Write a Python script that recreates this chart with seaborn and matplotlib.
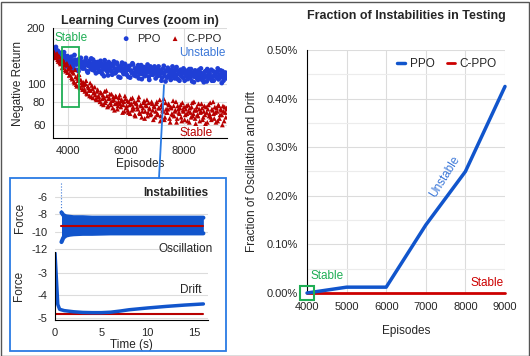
import numpy as np
import pandas as pd
import seaborn as sns
import matplotlib.pyplot as plt
from matplotlib.patches import Rectangle
from matplotlib.lines import Line2D
from matplotlib.ticker import FixedLocator, NullLocator, FuncFormatter, MultipleLocator, ScalarFormatter

# learning curves (zoom in), two runs of samples, 40 episodes apart each
episodes_a = list(range(3520, 9500, 40))
episodes_b = list(range(3540, 9520, 40))
ppo_return_a = [152, 146, 158, 141, 149, 137, 144, 131, 139, 148, 127, 135, 141,
                129, 138, 122, 133, 126, 143, 131, 119, 128, 136, 124, 132, 121,
                130, 126, 138, 117, 125, 133, 120, 128, 135, 118, 127, 123,
                131, 116, 124, 129, 113, 122, 134, 119, 126, 111, 121, 128, 117, 125, 132, 114, 120, 127, 109, 123, 118, 130, 115, 121, 126,
                112, 119, 124, 108, 117, 129, 114, 121, 110, 118, 126, 113, 120, 106, 116, 123, 111, 119, 127, 109, 115, 122, 112, 118, 124,
                107, 116, 121, 111, 118, 104, 114, 125, 110, 117, 108, 120, 113, 105, 119, 112, 116, 109, 123, 106, 115, 118, 110, 114, 121,
                104, 113, 117, 109, 120, 107, 115, 111, 102, 118, 112, 106, 116, 110, 121, 105, 113, 108, 117, 103, 111, 115, 107, 119, 109,
                104, 114, 110, 116, 106, 112, 118, 101, 113, 108, 115, 110]
ppo_return_b = [148, 155, 139, 151, 143, 133, 147, 138, 129, 142, 136, 124, 138,
                133, 125, 140, 128, 120, 135, 127, 131, 117, 129, 138, 122, 127,
                121, 134, 128, 115, 130, 124, 137, 119, 123, 131, 114, 129,
                120, 127, 133, 118, 125, 110, 129, 122, 116, 131, 119, 124, 112, 127, 121, 115, 130, 118, 123, 108, 125, 119, 113, 128, 117,
                122, 109, 125, 118, 114, 127, 111, 120, 116, 124, 107, 119, 126, 113, 118, 110, 122, 115, 120, 105, 124, 117, 112, 121, 114,
                119, 110, 124, 113, 117, 108, 121, 115, 103, 118, 122, 111, 116, 109, 124, 114, 107, 120, 112, 117, 104, 119, 113, 108, 116,
                118, 110, 106, 115, 112, 120, 103, 114, 109, 117, 111, 105, 119, 108, 114, 112, 102, 116, 110, 120, 107, 113, 109, 104, 117,
                111, 115, 108, 121, 106, 112, 109, 117, 104, 114, 111, 107]
cppo_return_a = [150, 143, 138, 146, 132, 140, 128, 135, 124, 131, 119, 127, 115,
                 122, 112, 118, 106, 114, 101, 109, 97, 104, 112, 95, 101, 93,
                 99, 91, 104, 88, 95, 86, 92, 98, 84, 90, 87, 82,
                 93, 85, 80, 89, 83, 77, 91, 81, 86, 76, 84, 79, 88, 74, 82, 78, 85, 73, 80, 87, 75, 81, 77, 71, 83,
                 76, 72, 80, 69, 78, 84, 73, 68, 79, 75, 82, 70, 77, 66, 74, 81, 71, 76, 67, 79, 73, 69, 78, 64, 75,
                 71, 80, 68, 74, 63, 77, 72, 83, 66, 73, 70, 78, 65, 75, 69, 81, 67, 72, 62, 76, 70, 74, 66, 79, 71,
                 64, 73, 69, 77, 62, 70, 75, 67, 80, 65, 72, 68, 78, 63, 71, 74, 66, 76, 61, 70, 73, 67, 79, 64, 72,
                 69, 75, 62, 71, 77, 65, 73, 68, 76, 63, 70, 74]
cppo_return_b = [147, 139, 144, 135, 141, 130, 137, 122, 133, 126, 117, 129, 120,
                 111, 124, 108, 116, 103, 119, 99, 107, 113, 96, 105, 98, 102,
                 94, 100, 89, 97, 92, 101, 85, 94, 89, 96, 83, 91,
                 86, 82, 90, 78, 87, 84, 79, 92, 75, 83, 88, 77, 81, 85, 72, 86, 79, 76, 84, 78, 82, 70, 80, 86, 74,
                 81, 70, 77, 83, 72, 75, 80, 67, 78, 73, 85, 69, 76, 71, 79, 65, 77, 82, 70, 74, 68, 80, 72, 76, 66,
                 78, 69, 74, 82, 67, 75, 71, 64, 79, 70, 73, 77, 62, 74, 68, 76, 71, 80, 65, 73, 69, 77, 63, 72, 75,
                 68, 76, 63, 71, 74, 66, 79, 69, 72, 61, 75, 67, 73, 70, 78, 64, 71, 68, 75, 62, 77, 69, 66, 73, 80,
                 65, 70, 74, 63, 76, 68, 72, 60, 71, 75, 66, 73]

# inset: oscillation (envelope) and drift
osc_time = [0.7, 0.9, 1.2, 1.6, 2.0, 3.0, 4.0, 6.0, 8.0, 10.0, 12.0, 14.0, 16.0]
osc_upper = [-7.8, -8.1, -8.25, -8.3, -8.35, -8.35, -8.4, -8.4, -8.4, -8.4, -8.4, -8.4, -8.4]
osc_lower = [-11.2, -10.7, -10.45, -10.35, -10.3, -10.25, -10.25, -10.2, -10.2, -10.2, -10.2, -10.2, -10.2]
osc_ref_time = [0.7, 16.0]
osc_ref = [-9.3, -9.3]
drift_time = [0.0, 0.3, 0.5, 1.0, 2.0, 3.0, 4.0, 5.0, 6.0, 7.0, 8.0, 10.0, 12.0, 14.0, 16.0]
drift_force = [-2.1, -4.4, -4.62, -4.68, -4.73, -4.76, -4.77, -4.77, -4.75, -4.7, -4.64, -4.56, -4.49, -4.43, -4.38]
drift_ref_time = [0.0, 16.0]
drift_ref = [-4.85, -4.85]

# fraction of instabilities in testing (percent)
test_episodes = [4000, 5000, 6000, 7000, 8000, 9000]
ppo_frac = [0.0, 0.012, 0.012, 0.14, 0.25, 0.425]
cppo_frac = [0.0, 0.0, 0.0, 0.0, 0.0, 0.0]

BLUE = '#1f3fd6'
LBLUE = '#1155cc'
TBLUE = '#3c78d8'
RED = '#b80000'
GREEN = '#1fae55'
GRID = '#dcdcdc'

sns.set_style('whitegrid', {'grid.color': GRID})
plt.rcParams['font.family'] = ['Liberation Sans', 'DejaVu Sans']
plt.rcParams['font.size'] = 8
plt.rcParams['axes.unicode_minus'] = False

W, H = 530, 356
fig = plt.figure(figsize=(W / 100, H / 100), dpi=100)

def box(x0, y0, x1, y1):
    return [x0 / W, 1 - y1 / H, (x1 - x0) / W, (y1 - y0) / H]

# ---------- learning curves ----------
ax1 = fig.add_axes(box(53, 28, 227, 138))
sns.scatterplot(x=episodes_a + episodes_b, y=ppo_return_a + ppo_return_b, ax=ax1, marker='o',
                s=12, color=BLUE, edgecolor='none', label='PPO')
sns.scatterplot(x=episodes_a + episodes_b, y=cppo_return_a + cppo_return_b, ax=ax1, marker='^',
                s=12, color=RED, edgecolor='none', label='C-PPO')
ax1.set_yscale('log')
ax1.set_ylim(51, 200)
ax1.set_xlim(3500, 9500)
ax1.yaxis.set_major_locator(FixedLocator([60, 80, 100, 200]))
ax1.yaxis.set_major_formatter(ScalarFormatter())
ax1.yaxis.set_minor_locator(NullLocator())
ax1.set_xticks([4000, 6000, 8000])
ax1.tick_params(labelsize=8, pad=2)
ax1.set_xlabel('Episodes', fontsize=8.5, labelpad=2)
ax1.set_ylabel('Negative Return', fontsize=8.5, labelpad=2)
ax1.set_title('Learning Curves (zoom in)', fontsize=9, fontweight='bold', pad=3)
for s in ['top', 'right']:
    ax1.spines[s].set_visible(False)
for s in ['left', 'bottom']:
    ax1.spines[s].set_color('black')
ax1.legend(loc='upper right', ncol=2, frameon=False, fontsize=8, handletextpad=0.0,
           columnspacing=0.3, borderaxespad=0.1, markerscale=1.0)
ax1.add_patch(Rectangle((3800, 75), 600, 83, fill=False, edgecolor=GREEN, lw=1.3, zorder=5))
ax1.text(3560, 176, 'Stable', color=GREEN, fontsize=8.5, va='center')
ax1.text(9450, 147, 'Unstable', color=TBLUE, fontsize=8.5, ha='right', va='center')
ax1.text(9000, 54.5, 'Stable', color=RED, fontsize=8.5, ha='right', va='center')

# ---------- inset: instabilities ----------
axt = fig.add_axes(box(55, 183, 208, 252))
axt.fill_between(osc_time, osc_lower, osc_upper, color=LBLUE, lw=0)
sns.lineplot(x=osc_time, y=osc_upper, ax=axt, color=LBLUE, lw=3, solid_capstyle='round')
sns.lineplot(x=osc_time, y=osc_lower, ax=axt, color=LBLUE, lw=3, solid_capstyle='round')
sns.lineplot(x=osc_ref_time, y=osc_ref, ax=axt, color=RED, lw=1.5)
axt.plot([0.7, 0.7], [-4.4, -7.8], ls=':', lw=0.8, color=TBLUE)
axt.set_xlim(0, 16.5)
axt.set_ylim(-12.35, -4.4)
axt.set_yticks([-6, -8, -10, -12])
axt.set_xticks([])
axt.tick_params(labelsize=8, pad=2)
axt.set_ylabel('Force', fontsize=8.5, labelpad=4)
for s in axt.spines.values():
    s.set_visible(False)
axt.patch.set_alpha(0)
axt.text(1.0, 0.855, 'Instabilities', transform=axt.transAxes, ha='right', va='center',
         fontsize=8.5, fontweight='bold')
axt.text(1.03, 0.05, 'Oscillation', transform=axt.transAxes, ha='right', va='center', fontsize=8.5)

axb = fig.add_axes(box(55, 252, 208, 320))
sns.lineplot(x=drift_ref_time, y=drift_ref, ax=axb, color=RED, lw=1.5)
sns.lineplot(x=drift_time, y=drift_force, ax=axb, color=LBLUE, lw=2.5)
axb.set_xlim(0, 16.5)
axb.set_ylim(-5.1, -2.05)
axb.set_yticks([-3, -4, -5])
axb.set_xticks([0, 5, 10, 15])
axb.tick_params(labelsize=8, pad=2)
axb.xaxis.grid(False)
axb.set_xlabel('Time (s)', fontsize=8.5, labelpad=1)
axb.set_ylabel('Force', fontsize=8.5, labelpad=9)
for s in ['top', 'right']:
    axb.spines[s].set_visible(False)
for s in ['left', 'bottom']:
    axb.spines[s].set_color('black')
axb.patch.set_alpha(0)
axb.text(0.96, 0.44, 'Drift', transform=axb.transAxes, ha='right', va='center', fontsize=8.5)

# inset frame and connector
fig.add_artist(Rectangle((10 / W, 1 - 351 / H), 216 / W, 173 / H, transform=fig.transFigure,
                         fill=False, edgecolor='#2a7be4', lw=1.3))
fig.add_artist(Line2D([164 / W, 159 / W], [1 - 85 / H, 1 - 178 / H], transform=fig.transFigure,
                      color='#2a7be4', lw=1.3))

# ---------- fraction of instabilities ----------
ax2 = fig.add_axes(box(307, 50, 505, 293))
sns.lineplot(x=test_episodes, y=cppo_frac, ax=ax2, color='#cc0000', lw=2, label='C-PPO',
             clip_on=False, zorder=3)
sns.lineplot(x=test_episodes, y=ppo_frac, ax=ax2, color=LBLUE, lw=2.5, label='PPO',
             clip_on=False, zorder=4)
ax2.set_xlim(4000, 9000)
ax2.set_ylim(0, 0.5)
ax2.yaxis.set_major_locator(MultipleLocator(0.1))
ax2.yaxis.set_minor_locator(MultipleLocator(0.05))
ax2.yaxis.set_major_formatter(FuncFormatter(lambda v, p: f'{v:.2f}%'))
ax2.xaxis.set_major_locator(MultipleLocator(1000))
ax2.grid(which='minor', axis='y', color='#ececec', lw=0.8)
ax2.tick_params(labelsize=8, pad=3)
ax2.set_xlabel('Episodes', fontsize=8.5, labelpad=9)
ax2.set_ylabel('Fraction of Oscillation and Drift', fontsize=8.5, labelpad=6)
ax2.set_title('Fraction of Instabilities in Testing', fontsize=9, fontweight='bold', pad=22)
for s in ['top', 'right', 'bottom']:
    ax2.spines[s].set_visible(False)
ax2.spines['left'].set_color('black')
h, l = ax2.get_legend_handles_labels()
ax2.legend(h[::-1], l[::-1], loc='upper right', ncol=2, frameon=False, fontsize=8.5,
           handlelength=0.7, handletextpad=0.4, columnspacing=1.0, borderaxespad=0.3)
ax2.add_patch(Rectangle((3823, -0.0144), 354, 0.0288, fill=False, edgecolor=GREEN, lw=1.5,
                        clip_on=False, zorder=6))
ax2.text(4080, 0.034, 'Stable', color=GREEN, fontsize=8.5, va='center')
ax2.text(8960, 0.02, 'Stable', color='#cc0000', fontsize=8.5, ha='right', va='center')
ax2.text(7480, 0.24, 'Unstable', color=TBLUE, fontsize=8.5, ha='center', va='center', rotation=58)

# outer frame
fig.add_artist(Rectangle((0.5 / W, 0.5 / H), (W - 2) / W, (H - 2) / H, transform=fig.transFigure,
                         fill=False, edgecolor='#555555', lw=1))

fig.savefig('out.png', dpi=100)
